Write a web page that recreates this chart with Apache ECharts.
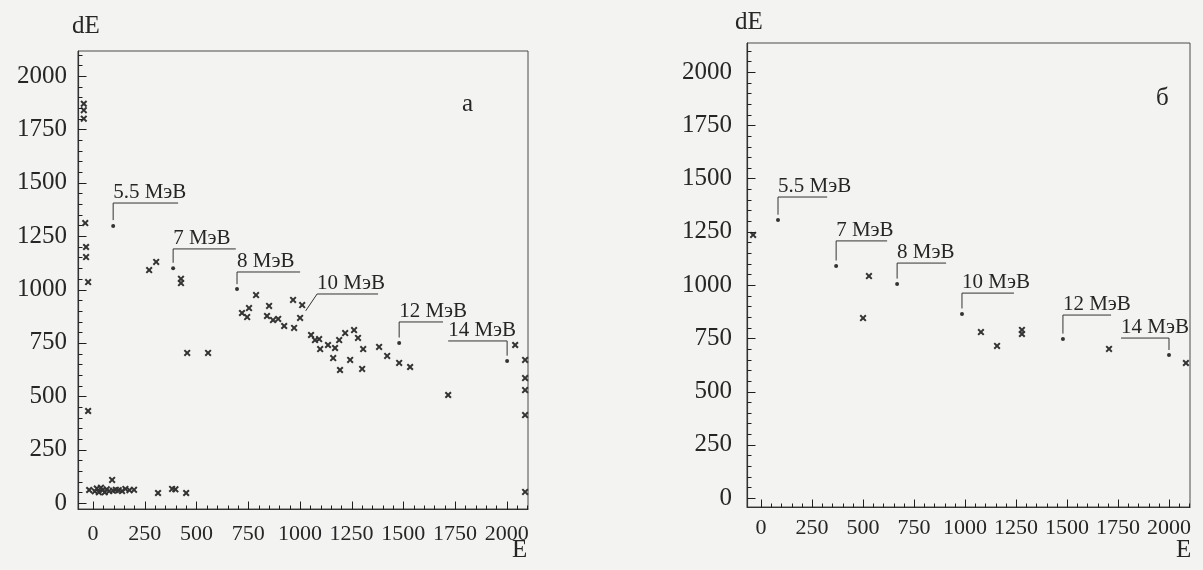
<!DOCTYPE html>
<html>
<head>
<meta charset="utf-8">
<script src="https://cdn.jsdelivr.net/npm/echarts@6.0.0/dist/echarts.min.js"></script>
<style>
  html, body { margin: 0; padding: 0; background: #f3f3f1; }
  #chart { width: 1203px; height: 570px; }
</style>
</head>
<body>
<div id="chart"></div>
<script>
// tick labels, same on both panels
var eTicks = [0, 250, 500, 750, 1000, 1250, 1500, 1750, 2000];
var dETicks = [0, 250, 500, 750, 1000, 1250, 1500, 1750, 2000];

// panel "а": measured points [E, dE]
var pointsA = [
  [-45, 1870], [-45, 1840], [-45, 1800],
  [-38, 1311], [-34, 1199], [-34, 1152], [-24, 1035], [-24, 431],
  [-19, 61], [8, 55], [18, 68], [28, 50], [38, 72], [46, 60], [56, 50], [66, 64],
  [78, 56], [92, 108], [96, 58], [110, 62], [124, 60], [140, 56], [156, 66],
  [176, 60], [198, 62], [314, 47], [382, 66], [398, 64], [450, 47],
  [271, 1091], [305, 1129], [425, 1050], [425, 1030], [455, 703], [556, 703],
  [788, 974], [720, 890], [754, 913], [745, 871], [851, 923], [841, 876],
  [870, 857], [895, 862], [924, 829], [972, 820], [967, 951], [1011, 927], [1001, 867],
  [1054, 787], [1073, 763], [1093, 768], [1098, 721], [1136, 740], [1170, 726],
  [1161, 679], [1190, 763], [1194, 623], [1219, 796], [1243, 670], [1262, 810],
  [1281, 773], [1306, 721], [1301, 628], [1383, 731], [1422, 689], [1480, 656],
  [1533, 637], [1717, 506], [2041, 740], [2089, 670], [2089, 585], [2089, 529],
  [2089, 412], [2089, 52]
];
// points picked out by the energy markers
var dotsA = [[97, 1297], [387, 1100], [696, 1002], [1480, 749], [2002, 665]];
// marker label + bracket path in data units
var marksA = [
  ["5.5 МэВ", [[97, 1325], [97, 1405], [411, 1405]]],
  ["7 МэВ", [[387, 1125], [387, 1190], [690, 1190]]],
  ["8 МэВ", [[696, 1025], [696, 1082], [1001, 1082]]],
  ["10 МэВ", [[1028, 900], [1083, 979], [1378, 979]]],
  ["12 МэВ", [[1480, 775], [1480, 848], [1692, 848]]],
  ["14 МэВ", [[2002, 690], [2002, 759], [1717, 759]]]
];

// panel "б"
var pointsB = [
  [-39, 1235], [529, 1042], [500, 845], [1078, 779], [1157, 714],
  [1279, 789], [1279, 770], [1706, 700], [2083, 634]
];
var dotsB = [[83, 1305], [368, 1089], [667, 1005], [985, 864], [1480, 746], [2000, 671]];
var marksB = [
  ["5.5 МэВ", [[83, 1330], [83, 1413], [324, 1413]]],
  ["7 МэВ", [[368, 1115], [368, 1207], [618, 1207]]],
  ["8 МэВ", [[667, 1030], [667, 1103], [907, 1103]]],
  ["10 МэВ", [[985, 890], [985, 962], [1240, 962]]],
  ["12 МэВ", [[1480, 772], [1480, 859], [1716, 859]]],
  ["14 МэВ", [[2000, 695], [2000, 751], [1765, 751]]]
];

var ink = "#262626";
var serif = "Liberation Serif";
var star = "path://M0,2L2,0L5,3L8,0L10,2L7,5L10,8L8,10L5,7L2,10L0,8L3,5Z";

function minorList(to) {
  var r = [];
  for (var v = 0; v <= to; v += 50) r.push(v);
  return r;
}
function plain(v) {
  return String(v);
}

var option = {
  backgroundColor: "#f3f3f1",
  animation: false,
  grid: [],
  xAxis: [],
  yAxis: [],
  series: [],
  graphic: []
};
var panels = [];

function addPanel(i, cfg) {
  panels.push(cfg);
  option.grid.push({
    left: cfg.left, top: cfg.top, width: cfg.width, height: cfg.height,
    show: true, borderColor: "#4a4a4a", borderWidth: 1, backgroundColor: "transparent"
  });
  option.xAxis.push({
    type: "value", gridIndex: i, position: "bottom", min: cfg.xMin, max: cfg.xMax,
    axisLine: { show: true, onZero: false, lineStyle: { color: "#333", width: 1.2 } },
    axisTick: { show: false },
    axisLabel: { customValues: eTicks, formatter: plain, color: ink, fontFamily: serif, fontSize: 22, margin: cfg.xMargin },
    splitLine: { show: false }
  });
  option.yAxis.push({
    type: "value", gridIndex: i, position: "left", min: cfg.yMin, max: cfg.yMax,
    axisLine: { show: true, onZero: false, lineStyle: { color: "#333", width: 1.2 } },
    axisTick: { show: false },
    axisLabel: { customValues: dETicks, formatter: plain, color: ink, fontFamily: serif, fontSize: 25, margin: cfg.yMargin },
    splitLine: { show: false }
  });

  option.series.push({
    type: "scatter", xAxisIndex: i, yAxisIndex: i,
    symbol: star, symbolSize: 7,
    itemStyle: { color: "#333", opacity: 1 },
    data: cfg.points
  }, {
    type: "scatter", xAxisIndex: i, yAxisIndex: i,
    symbol: "circle", symbolSize: 4,
    itemStyle: { color: "#333", opacity: 1 },
    data: cfg.dots
  });
  var labels = [];
  cfg.marks.forEach(function (m) {
    var p = m[1];
    option.series.push({
      type: "line", xAxisIndex: i, yAxisIndex: i,
      symbol: "none", silent: true,
      lineStyle: { color: "#333", width: 1 },
      data: p
    });
    var a = p[p.length - 2], b = p[p.length - 1];
    labels.push({ name: m[0], value: [Math.min(a[0], b[0]), a[1]] });
  });
  option.series.push({
    type: "scatter", xAxisIndex: i, yAxisIndex: i,
    symbolSize: 0, silent: true,
    itemStyle: { color: ink, opacity: 1 },
    label: {
      show: true, formatter: "{b}", position: [0, 0],
      align: "left", verticalAlign: "bottom",
      color: ink, opacity: 1, textBorderWidth: 0,
      fontFamily: serif, fontSize: 21
    },
    data: labels
  });
  option.graphic.push(
    { type: "text", left: cfg.dEx, top: cfg.dEy, style: { text: "dE", fill: ink, font: "25px " + serif } },
    { type: "text", left: cfg.Ex, top: 538, style: { text: "E", fill: ink, font: "25px " + serif } },
    { type: "text", left: cfg.tagX, top: cfg.tagY, style: { text: cfg.tag, fill: ink, font: "25px " + serif } }
  );
}

addPanel(0, {
  left: 78, top: 51, width: 450, height: 458,
  xMin: -73, xMax: 2103, yMin: -28, yMax: 2117,
  xMargin: 14, yMargin: 11,
  points: pointsA, dots: dotsA, marks: marksA,
  dEx: 72, dEy: 14, Ex: 512, tag: "а", tagX: 462, tagY: 92
});
addPanel(1, {
  left: 747, top: 43, width: 443, height: 464,
  xMin: -69, xMax: 2103, yMin: -42, yMax: 2136,
  xMargin: 10, yMargin: 15,
  points: pointsB, dots: dotsB, marks: marksB,
  dEx: 735, dEy: 10, Ex: 1176, tag: "б", tagX: 1156, tagY: 86
});

var chart = echarts.init(document.getElementById("chart"));
chart.setOption(option);

// inward tick marks, placed through the axis scales once the grids are laid out
var tickEls = [];
function tickLine(x1, y1, x2, y2) {
  tickEls.push({
    type: "line", silent: true, z: 10,
    shape: { x1: x1, y1: y1, x2: x2, y2: y2 },
    style: { stroke: "#1e1e1e", lineWidth: 1 }
  });
}
panels.forEach(function (cfg, i) {
  var finder = { gridIndex: i };
  var base = chart.convertToPixel(finder, [cfg.xMin, cfg.yMin]);
  var x0 = Math.round(base[0]) + 0.5, y0 = Math.round(base[1]) + 0.5;
  minorList(cfg.xMax).forEach(function (v) {
    var x = Math.round(chart.convertToPixel(finder, [v, cfg.yMin])[0]) + 0.5;
    tickLine(x, y0, x, y0 - (eTicks.indexOf(v) >= 0 ? 8 : 4));
  });
  minorList(2100).forEach(function (v) {
    var y = Math.round(chart.convertToPixel(finder, [cfg.xMin, v])[1]) + 0.5;
    tickLine(x0, y, x0 + (dETicks.indexOf(v) >= 0 ? 8 : 4), y);
  });
});
chart.setOption({ graphic: option.graphic.concat(tickEls) });
</script>
</body>
</html>
